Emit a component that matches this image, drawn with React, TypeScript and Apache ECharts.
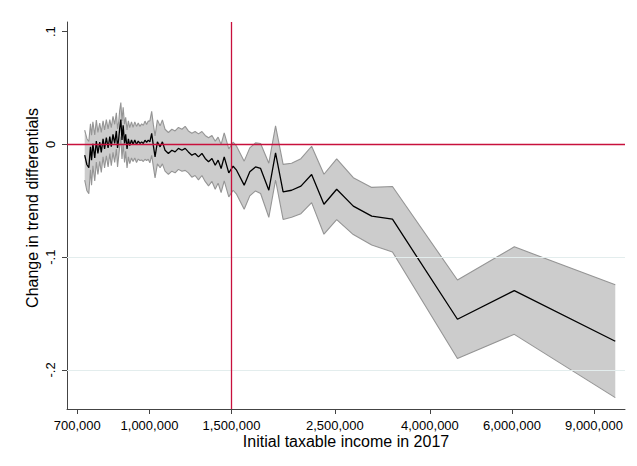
import React, { useEffect, useRef } from "react";
import * as echarts from "echarts";

// Initial taxable income (x), point estimates and CI half-widths
const incomes = [
  726000, 734000, 741000, 747000, 751000, 756000, 763000, 769000, 775000, 782000,
  788000, 795000, 801000, 808000, 815000, 822000, 828000, 835000, 842000, 849000,
  854000, 859000, 863000, 868000, 873000, 878000, 884000, 889000, 895000, 901000,
  907000, 915000, 922000, 930000, 938000, 946000, 954000, 962000, 970000, 978000,
  986000, 994000, 1002000, 1011000, 1019000, 1028000, 1040000, 1054000, 1066000, 1080000,
  1098000, 1117000, 1135000, 1154000, 1174000, 1193000, 1212000, 1233000, 1253000, 1274000,
  1296000, 1317000, 1339000, 1362000, 1384000, 1404000, 1425000, 1447000, 1480000, 1512000,
  1538000, 1597000, 1642000, 1689000, 1732000, 1804000, 1865000, 1936000, 2019000, 2114000,
  2229000, 2369000, 2523000, 2739000, 3000000, 3324000, 4583000, 6070000, 10000000,
];

const estimates = [
  -0.0095, -0.018, -0.0205, -0.002, -0.014, 0.0005, -0.012, 0.003, -0.008, 0.002,
  -0.007, 0.005, -0.004, 0.006, -0.003, 0.007, -0.002, 0.009, 0.001, 0.012,
  -0.003, 0.005, 0.014, 0.022, 0.004, 0.017, 0.001, 0.009, -0.004, 0.005,
  -0.001, 0.004, 0.0, 0.004, 0.0, 0.003, 0.0009, 0.0023, 0.0009, 0.0038,
  0.0018, 0.0038, 0.0023, 0.0098, -0.0006, -0.011, 0.0023, -0.0021, 0.0023, -0.0051,
  -0.008, -0.0051, -0.0066, -0.0035, -0.0051, -0.0035, -0.0066, -0.0095, -0.008, -0.011,
  -0.008, -0.0124, -0.0154, -0.0124, -0.0184, -0.0139, -0.0213, -0.011, -0.0252, -0.0193,
  -0.0228, -0.0361, -0.0243, -0.0199, -0.0213, -0.0406, -0.0075, -0.0421, -0.0406, -0.037,
  -0.0266, -0.053, -0.0397, -0.0547, -0.0636, -0.0663, -0.155, -0.1296, -0.1745,
];

const ciHalfWidths = [
  0.0222, 0.0231, 0.0231, 0.0204, 0.0222, 0.0195, 0.0204, 0.0186, 0.0186, 0.0169,
  0.0177, 0.016, 0.0169, 0.016, 0.0169, 0.0151, 0.0169, 0.016, 0.0169, 0.016,
  0.0169, 0.0151, 0.016, 0.0151, 0.0169, 0.016, 0.0169, 0.0151, 0.0169, 0.016,
  0.016, 0.016, 0.0151, 0.016, 0.016, 0.016, 0.0151, 0.016, 0.016, 0.0169,
  0.016, 0.0169, 0.0186, 0.0195, 0.0186, 0.0186, 0.0195, 0.0186, 0.0195, 0.0186,
  0.0186, 0.0186, 0.0186, 0.0186, 0.0186, 0.0195, 0.0186, 0.0195, 0.0195, 0.0204,
  0.0195, 0.0204, 0.0213, 0.0204, 0.0213, 0.0204, 0.0213, 0.0213, 0.0213, 0.0213,
  0.0213, 0.0213, 0.0213, 0.0213, 0.0222, 0.024, 0.024, 0.0244, 0.024, 0.0244,
  0.025, 0.0266, 0.027, 0.0252, 0.0255, 0.029, 0.0348, 0.0388, 0.05,
];

const xTickIncomes = [700000, 1000000, 1500000, 2500000, 4000000, 6000000, 9000000];
const yTickValues = [-0.2, -0.1, 0, 0.1];
const yGridValues = [-0.1, -0.2];
const thresholdIncome = 1500000;

const FONT = "Liberation Sans, Arial, sans-serif";
const RED = "#c8103c";

function fmtIncome(v: number) {
  const inc = Math.round(Math.exp(v) / 100000) * 100000;
  return String(inc).replace(/\B(?=(\d{3})+(?!\d))/g, ",");
}
function fmtY(v: number) {
  if (Math.abs(v) < 1e-9) return "0";
  return (v < 0 ? "-" : "") + "." + Math.round(Math.abs(v) * 10);
}

export default function App() {
  const ref = useRef<HTMLDivElement>(null);
  useEffect(() => {
    if (!ref.current) return;
    const chart = echarts.init(ref.current, null, { renderer: "svg" });
    const xs = incomes.map((v) => Math.log(v));
    const lower = estimates.map((e, i) => [xs[i], e - ciHalfWidths[i]]);
    const upper = estimates.map((e, i) => [xs[i], e + ciHalfWidths[i]]);
    const center = estimates.map((e, i) => [xs[i], e]);

    chart.setOption({
      animation: false,
      backgroundColor: "#ffffff",
      textStyle: { fontFamily: FONT },
      grid: { left: 67, right: 12, top: 22, bottom: 57, outerBoundsMode: "none" },
      xAxis: {
        type: "value",
        min: Math.log(665200),
        max: Math.log(665200) + 558 / 202.3,
        name: "Initial taxable income in 2017",
        nameLocation: "middle",
        nameGap: 24,
        nameMoveOverlap: false,
        nameTextStyle: { fontSize: 16, color: "#000", fontFamily: FONT },
        axisLine: { show: true, onZero: false, lineStyle: { color: "#444", width: 1 } },
        axisTick: {
          show: true,
          length: 5,
          customValues: xTickIncomes.map((v) => Math.log(v)),
          lineStyle: { color: "#444" },
        },
        axisLabel: {
          customValues: xTickIncomes.map((v) => Math.log(v)),
          formatter: fmtIncome,
          fontSize: 13,
          color: "#000",
          fontFamily: FONT,
          margin: 10,
        },
        splitLine: { show: false },
      },
      yAxis: {
        type: "value",
        min: -0.2346,
        max: 0.1086,
        axisLine: { show: true, onZero: false, lineStyle: { color: "#444", width: 1 } },
        axisTick: { show: true, length: 5, customValues: yTickValues, lineStyle: { color: "#444" } },
        axisLabel: {
          customValues: yTickValues,
          formatter: fmtY,
          rotate: 90,
          fontSize: 13,
          color: "#000",
          fontFamily: FONT,
          margin: 10,
        },
        splitLine: { show: false },
      },
      graphic: [
        {
          type: "text",
          x: 32,
          y: 208,
          rotation: Math.PI / 2,
          style: {
            text: "Change in trend differentials",
            fontSize: 16,
            fontFamily: FONT,
            fill: "#000",
            align: "center",
            verticalAlign: "middle",
          },
        },
      ],
      series: [
        {
          type: "line",
          name: "grid",
          data: [],
          z: 1,
          silent: true,
          markLine: {
            silent: true,
            symbol: "none",
            label: { show: false },
            lineStyle: { color: "#e3eded", width: 1, type: "solid" },
            data: yGridValues.map((v) => ({ yAxis: v })),
          },
        },
        {
          type: "custom",
          name: "ci",
          z: 2,
          silent: true,
          data: [0],
          renderItem: (params: any, api: any) => {
            const pts: number[][] = [];
            for (let i = 0; i < upper.length; i++) pts.push(api.coord(upper[i]));
            for (let i = lower.length - 1; i >= 0; i--) pts.push(api.coord(lower[i]));
            return {
              type: "polygon",
              shape: { points: pts },
              style: { fill: "#cccccc", stroke: "none" },
            };
          },
        },
        {
          type: "line",
          name: "upper",
          data: upper,
          symbol: "none",
          z: 2,
          lineStyle: { color: "#959595", width: 1.1 },
        },
        {
          type: "line",
          name: "lower",
          data: lower,
          symbol: "none",
          z: 2,
          lineStyle: { color: "#959595", width: 1.1 },
        },
        {
          type: "line",
          name: "refs",
          data: [],
          z: 3,
          silent: true,
          markLine: {
            silent: true,
            symbol: "none",
            label: { show: false },
            lineStyle: { color: RED, width: 1.3, type: "solid" },
            data: [{ yAxis: 0 }, { xAxis: Math.log(thresholdIncome) }],
          },
        },
        {
          type: "line",
          name: "estimate",
          data: center,
          symbol: "none",
          z: 4,
          lineStyle: { color: "#000", width: 1.3 },
        },
      ],
    });
    return () => chart.dispose();
  }, []);
  return (
    <div
      ref={ref}
      style={{ position: "fixed", left: 0, top: 0, width: 637, height: 466, background: "#fff" }}
    />
  );
}
